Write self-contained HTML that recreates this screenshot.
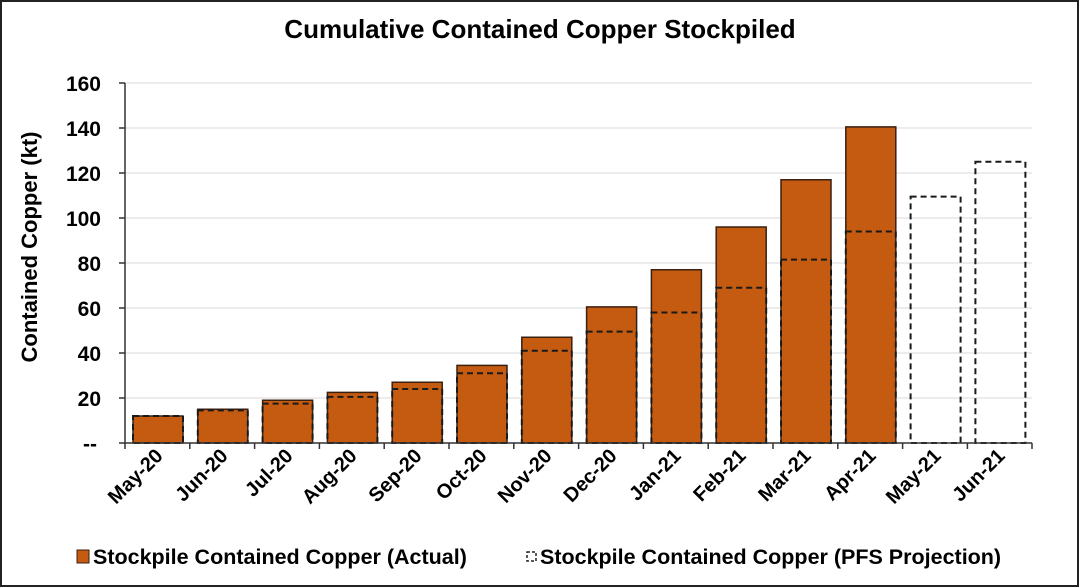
<!DOCTYPE html>
<html><head><meta charset="utf-8"><style>
html,body{margin:0;padding:0;background:#fff}
svg{display:block;font-family:"Liberation Sans",Arial,sans-serif;font-weight:bold}
</style></head><body>
<svg width="1080" height="588" viewBox="0 0 1080 588" xmlns="http://www.w3.org/2000/svg">
<rect x="1" y="1" width="1077" height="585" fill="#fff" stroke="#222" stroke-width="2"/>
<text x="540" y="38" text-anchor="middle" font-size="26" fill="#000">Cumulative Contained Copper Stockpiled</text>
<g stroke="#d9d9d9" stroke-width="1">
<line x1="125" y1="83" x2="1032" y2="83"/><line x1="125" y1="128" x2="1032" y2="128"/>
<line x1="125" y1="173" x2="1032" y2="173"/><line x1="125" y1="218" x2="1032" y2="218"/>
<line x1="125" y1="263" x2="1032" y2="263"/><line x1="125" y1="308" x2="1032" y2="308"/>
<line x1="125" y1="353" x2="1032" y2="353"/><line x1="125" y1="398" x2="1032" y2="398"/>
</g>
<g fill="#C55A11" stroke="#3a2010" stroke-width="1.5">
<rect x="133" y="416" width="50" height="27"/>
<rect x="197.8" y="409.25" width="50" height="33.75"/>
<rect x="262.6" y="400.25" width="50" height="42.75"/>
<rect x="327.4" y="392.4" width="50" height="50.6"/>
<rect x="392.2" y="382.25" width="50" height="60.75"/>
<rect x="457" y="365.4" width="50" height="77.6"/>
<rect x="521.8" y="337.25" width="50" height="105.75"/>
<rect x="586.6" y="306.9" width="50" height="136.1"/>
<rect x="651.4" y="269.75" width="50" height="173.25"/>
<rect x="716.2" y="227" width="50" height="216"/>
<rect x="781" y="179.75" width="50" height="263.25"/>
<rect x="845.8" y="126.9" width="50" height="316.1"/>
</g>
<g fill="none" stroke="#1a1a1a" stroke-width="2" stroke-dasharray="6,4">
<rect x="133" y="416" width="50" height="27"/>
<rect x="197.8" y="410.4" width="50" height="32.6"/>
<rect x="262.6" y="403.6" width="50" height="39.4"/>
<rect x="327.4" y="396.9" width="50" height="46.1"/>
<rect x="392.2" y="389" width="50" height="54"/>
<rect x="457" y="373.25" width="50" height="69.75"/>
<rect x="521.8" y="350.75" width="50" height="92.25"/>
<rect x="586.6" y="331.6" width="50" height="111.4"/>
<rect x="651.4" y="312.5" width="50" height="130.5"/>
<rect x="716.2" y="287.75" width="50" height="155.25"/>
<rect x="781" y="259.6" width="50" height="183.4"/>
<rect x="845.8" y="231.5" width="50" height="211.5"/>
<rect x="910.6" y="196.6" width="50" height="246.4"/>
<rect x="975.4" y="161.75" width="50" height="281.25"/>
</g>
<g stroke="#333" stroke-width="1.5">
<line x1="125" y1="83" x2="125" y2="443"/>
<line x1="125" y1="443" x2="1032" y2="443"/>
<line x1="119" y1="83" x2="125" y2="83"/><line x1="119" y1="128" x2="125" y2="128"/>
<line x1="119" y1="173" x2="125" y2="173"/><line x1="119" y1="218" x2="125" y2="218"/>
<line x1="119" y1="263" x2="125" y2="263"/><line x1="119" y1="308" x2="125" y2="308"/>
<line x1="119" y1="353" x2="125" y2="353"/><line x1="119" y1="398" x2="125" y2="398"/>
<line x1="119" y1="443" x2="125" y2="443"/>
<line x1="125" y1="443" x2="125" y2="449"/><line x1="189.8" y1="443" x2="189.8" y2="449"/>
<line x1="254.6" y1="443" x2="254.6" y2="449"/><line x1="319.4" y1="443" x2="319.4" y2="449"/>
<line x1="384.2" y1="443" x2="384.2" y2="449"/><line x1="449" y1="443" x2="449" y2="449"/>
<line x1="513.8" y1="443" x2="513.8" y2="449"/><line x1="578.6" y1="443" x2="578.6" y2="449"/>
<line x1="643.4" y1="443" x2="643.4" y2="449"/><line x1="708.2" y1="443" x2="708.2" y2="449"/>
<line x1="773" y1="443" x2="773" y2="449"/><line x1="837.8" y1="443" x2="837.8" y2="449"/>
<line x1="902.6" y1="443" x2="902.6" y2="449"/><line x1="967.4" y1="443" x2="967.4" y2="449"/>
<line x1="1032" y1="443" x2="1032" y2="449"/>
</g>
<g font-size="21" text-anchor="end" fill="#000">
<text x="101" y="91">160</text><text x="101" y="136">140</text><text x="101" y="181">120</text>
<text x="101" y="226">100</text><text x="101" y="271">80</text><text x="101" y="316">60</text>
<text x="101" y="361">40</text><text x="101" y="406">20</text><text x="97" y="451">--</text>
</g>
<text transform="translate(37,247) rotate(-90)" text-anchor="middle" font-size="22">Contained Copper (kt)</text>
<g font-size="20" text-anchor="end" fill="#000">
<text transform="translate(164,457) rotate(-45)">May-20</text>
<text transform="translate(229,457) rotate(-45)">Jun-20</text>
<text transform="translate(294,457) rotate(-45)">Jul-20</text>
<text transform="translate(358,457) rotate(-45)">Aug-20</text>
<text transform="translate(423,457) rotate(-45)">Sep-20</text>
<text transform="translate(488,457) rotate(-45)">Oct-20</text>
<text transform="translate(553,457) rotate(-45)">Nov-20</text>
<text transform="translate(618,457) rotate(-45)">Dec-20</text>
<text transform="translate(682,457) rotate(-45)">Jan-21</text>
<text transform="translate(747,457) rotate(-45)">Feb-21</text>
<text transform="translate(812,457) rotate(-45)">Mar-21</text>
<text transform="translate(877,457) rotate(-45)">Apr-21</text>
<text transform="translate(942,457) rotate(-45)">May-21</text>
<text transform="translate(1006,457) rotate(-45)">Jun-21</text>
</g>
<rect x="77" y="550" width="12" height="13" fill="#C55A11" stroke="#3a2010" stroke-width="1"/>
<text x="93" y="564" font-size="21.5">Stockpile Contained Copper (Actual)</text>
<rect x="527" y="552" width="9" height="9" fill="none" stroke="#222" stroke-width="1.5" stroke-dasharray="3,2"/>
<text x="540" y="564" font-size="21.5">Stockpile Contained Copper (PFS Projection)</text>
</svg>
</body></html>
